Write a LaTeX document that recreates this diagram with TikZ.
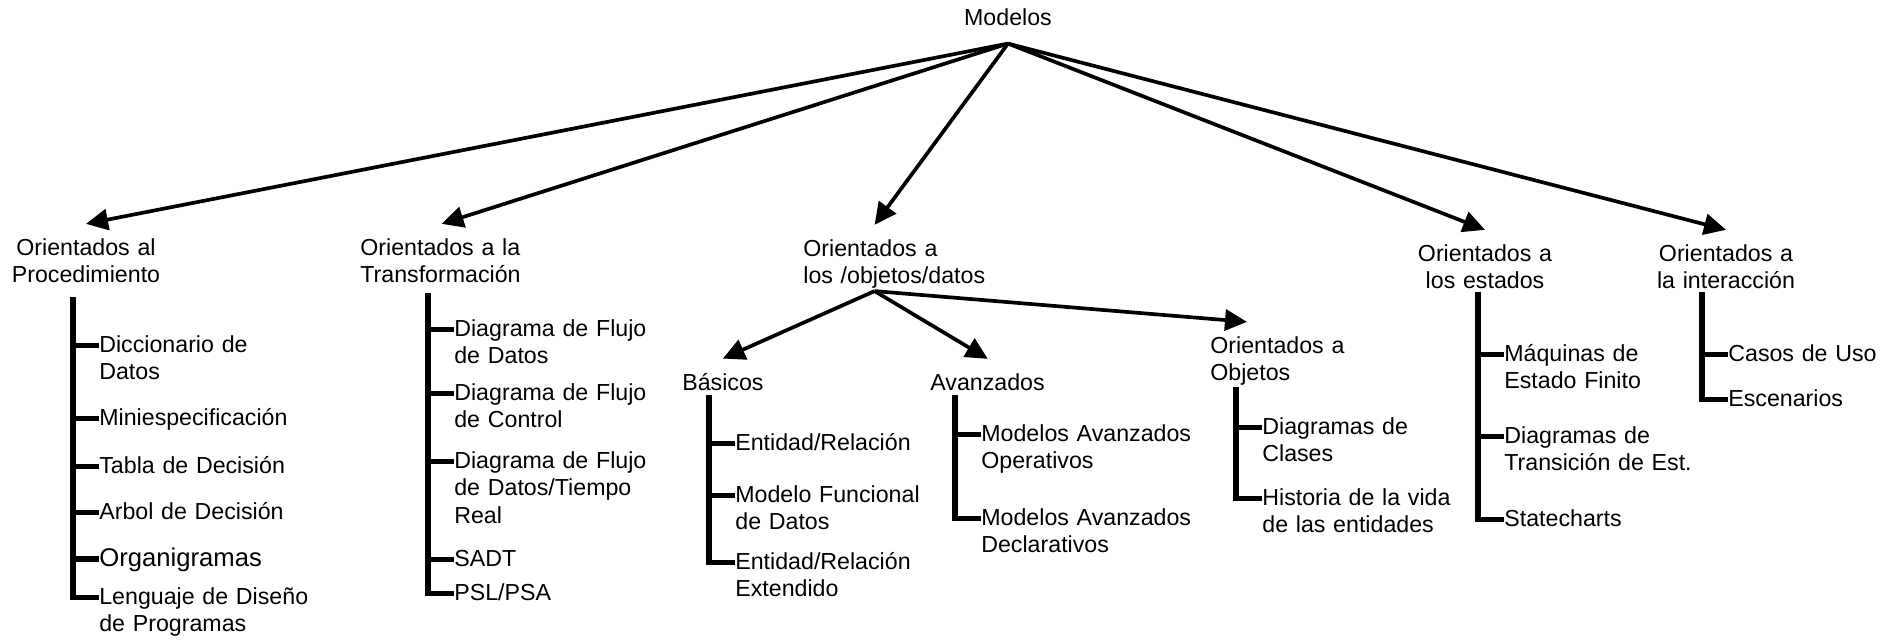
\documentclass[tikz,border=0pt]{standalone}
\usepackage{fontspec}
\setmainfont{Liberation Sans}
\usetikzlibrary{arrows.meta}

\tikzset{
  root/.style={inner xsep=0pt,inner ysep=0.36cm},
  hdr/.style={inner xsep=0pt,inner ysep=0.28cm},
  item/.style={anchor=base west,align=left,text width=4.5cm,inner sep=0pt},
  arr/.style={line width=2.1pt,-{Triangle[length=0.44cm,width=0.42cm]}},
  bar/.style={line width=3.4pt},
  tick/.style={line width=2.5pt},
}

\begin{document}
\begin{tikzpicture}[x=0.02cm,y=-0.02cm,font=\fontsize{13.2pt}{15.9pt}\selectfont]
  \useasboundingbox (0,0) rectangle (1901,640);

  % root and main groups
  \node[root,anchor=base] (mod) at (1008,25) {Modelos};
  \node[hdr,anchor=base,align=center,text width=3cm] (proc) at (86,255) {Orientados al\\Procedimiento};
  \node[hdr,anchor=base west,align=left,text width=3.25cm] (trans) at (360,255) {Orientados a la\\Transformación};
  \node[hdr,anchor=base west,align=left,text width=2.85cm] (obj) at (803,256) {Orientados a\\\mbox{los /objetos/datos}};
  \node[hdr,anchor=base,align=center,text width=2.7cm] (est) at (1485,261) {Orientados a\\los estados};
  \node[hdr,anchor=base,align=center,text width=2.8cm] (inter) at (1726,261) {Orientados a\\la interacción};

  \draw[arr] (mod.south) -- (proc.north);
  \draw[arr] (mod.south) -- (trans.north);
  \draw[arr] (mod.south) -- (obj.north);
  \draw[arr] (mod.south) -- (est.north);
  \draw[arr] (mod.south) -- (inter.north);

  % subgroups of objetos/datos
  \node[hdr,anchor=base west,align=left,text width=1.62cm] (bas) at (682,390) {Básicos};
  \node[hdr,anchor=base west,align=left,text width=2.3cm] (ava) at (930,390) {Avanzados};
  \node[hdr,anchor=base west,align=left,text width=2.7cm] (oao) at (1210,353) {Orientados a\\Objetos};

  \draw[arr] ([yshift=0.24cm]obj.south) -- (bas.north);
  \draw[arr] ([yshift=0.24cm]obj.south) -- (ava.north);
  \draw[arr] ([yshift=0.24cm]obj.south) -- ([xshift=0.74cm]oao.north west);

  % procedimiento
  \coordinate (pb) at (73,297);
  \node[item] (p1) at (99,352) {Diccionario de\\Datos};
  \node[item] (p2) at (99,425) {Miniespecificación};
  \node[item] (p3) at (99,473) {Tabla de Decisión};
  \node[item] (p4) at (99,519) {Arbol de Decisión};
  \node[item,font=\fontsize{14.6pt}{17pt}\selectfont] (p5) at (99,566) {Organigramas};
  \node[item] (p6) at (99,604) {Lenguaje de Diseño\\de Programas};
  \draw[bar] (pb) |- ([yshift=3.7pt]p6.base west);
  \draw[tick] ([yshift=3.7pt]p1.base west) -- +(-0.52cm,0);
  \draw[tick] ([yshift=3.7pt]p2.base west) -- +(-0.52cm,0);
  \draw[tick] ([yshift=3.7pt]p3.base west) -- +(-0.52cm,0);
  \draw[tick] ([yshift=3.7pt]p4.base west) -- +(-0.52cm,0);
  \draw[tick,line width=3.4pt] ([yshift=3.9pt]p5.base west) -- +(-0.52cm,0);

  % transformacion
  \coordinate (tb) at (428,293);
  \node[item] (t1) at (454,336) {Diagrama de Flujo\\de Datos};
  \node[item] (t2) at (454,400) {Diagrama de Flujo\\de Control};
  \node[item] (t3) at (454,468) {Diagrama de Flujo\\de Datos/Tiempo\\Real};
  \node[item] (t4) at (454,566) {SADT};
  \node[item] (t5) at (454,600) {PSL/PSA};
  \draw[bar] (tb) |- ([yshift=3.7pt]t5.base west);
  \draw[tick] ([yshift=3.7pt]t1.base west) -- +(-0.52cm,0);
  \draw[tick] ([yshift=3.7pt]t2.base west) -- +(-0.52cm,0);
  \draw[tick] ([yshift=3.7pt]t3.base west) -- +(-0.52cm,0);
  \draw[tick] ([yshift=3.7pt]t4.base west) -- +(-0.52cm,0);

  % basicos
  \coordinate (bb) at (709,395);
  \node[item] (b1) at (735,450) {Entidad/Relación};
  \node[item] (b2) at (735,502) {Modelo Funcional\\de Datos};
  \node[item] (b3) at (735,569) {Entidad/Relación\\Extendido};
  \draw[bar] (bb) |- ([yshift=3.7pt]b3.base west);
  \draw[tick] ([yshift=3.7pt]b1.base west) -- +(-0.52cm,0);
  \draw[tick] ([yshift=3.7pt]b2.base west) -- +(-0.52cm,0);

  % avanzados
  \coordinate (ab) at (955,395);
  \node[item] (a1) at (981,441) {Modelos Avanzados\\Operativos};
  \node[item] (a2) at (981,525) {Modelos Avanzados\\Declarativos};
  \draw[bar] (ab) |- ([yshift=3.7pt]a2.base west);
  \draw[tick] ([yshift=3.7pt]a1.base west) -- +(-0.52cm,0);

  % orientados a objetos
  \coordinate (ob) at (1236,387);
  \node[item] (o1) at (1262,434) {Diagramas de\\Clases};
  \node[item] (o2) at (1262,505) {Historia de la vida\\de las entidades};
  \draw[bar] (ob) |- ([yshift=3.7pt]o2.base west);
  \draw[tick] ([yshift=3.7pt]o1.base west) -- +(-0.52cm,0);

  % estados
  \coordinate (eb) at (1478,292);
  \node[item] (e1) at (1504,361) {Máquinas de\\Estado Finito};
  \node[item] (e2) at (1504,443) {Diagramas de\\Transición de Est.};
  \node[item] (e3) at (1504,526) {Statecharts};
  \draw[bar] (eb) |- ([yshift=3.7pt]e3.base west);
  \draw[tick] ([yshift=3.7pt]e1.base west) -- +(-0.52cm,0);
  \draw[tick] ([yshift=3.7pt]e2.base west) -- +(-0.52cm,0);

  % interaccion
  \coordinate (ib) at (1702,292);
  \node[item] (i1) at (1728,361) {Casos de Uso};
  \node[item] (i2) at (1728,406) {Escenarios};
  \draw[bar] (ib) |- ([yshift=3.7pt]i2.base west);
  \draw[tick] ([yshift=3.7pt]i1.base west) -- +(-0.52cm,0);

\end{tikzpicture}
\end{document}
